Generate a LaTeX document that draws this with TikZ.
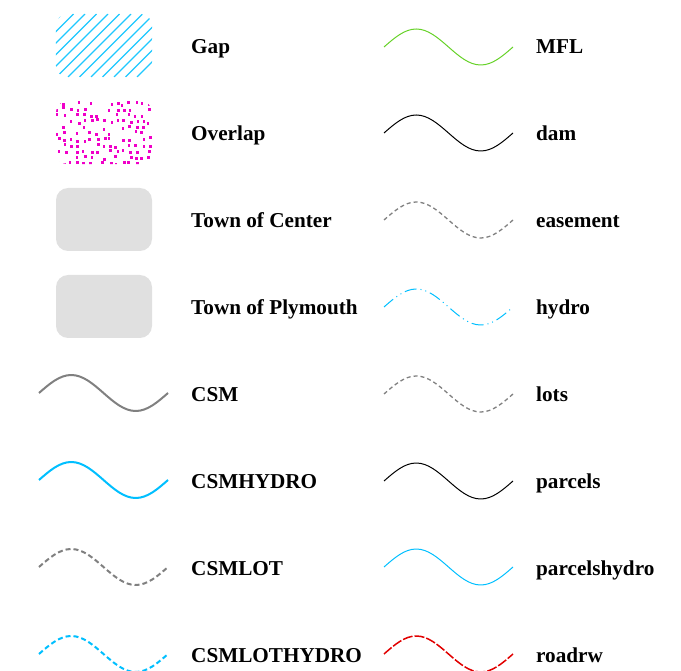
\documentclass[tikz,border=0pt]{standalone}
\usepackage{fontspec}
\setmainfont{Liberation Serif}
\usetikzlibrary{positioning}

\definecolor{hydroblue}{RGB}{0,191,255}
\definecolor{hatchblue}{RGB}{30,200,255}
\definecolor{dotpink}{RGB}{240,0,200}
\definecolor{townfill}{RGB}{224,224,224}
\definecolor{mflgreen}{RGB}{102,210,40}
\definecolor{csmgray}{RGB}{128,128,128}
\definecolor{roadred}{RGB}{225,0,0}

\tikzset{
  legtext/.style={font=\bfseries\fontsize{21.2}{23}\selectfont, anchor=base west, inner sep=0pt},
  swatch/.style={minimum width=96pt, minimum height=63pt, rounded corners=12pt, inner sep=0pt},
  wave/.pic={\draw[pic actions] (0,0) sin (32.25,-18) cos (64.5,0) sin (96.75,18) cos (129,0);}
}

\begin{document}
\begin{tikzpicture}[x=1pt, y=-1pt, line join=round]
\useasboundingbox (0,0) rectangle (681,671);

% left column swatches
\node[swatch] (gap) at (104,45.5) {};
\begin{scope}
  \clip[rounded corners=12pt] (gap.south west) rectangle (gap.north east);
  \foreach \k in {-80,-68.5,...,110}
    \draw[hatchblue, line width=1.3pt] (56+\k,77) -- (56+\k+63,14);
\end{scope}

\node[swatch] (overlap) at (104,132.5) {};
\begin{scope}
  \clip[rounded corners=12pt] (overlap.south west) rectangle (overlap.north east);
  \pgfmathsetseed{17}
  \foreach \xx in {57,63.5,...,152}
    \foreach \yy in {102,108,...,163}{
      \pgfmathsetmacro\dx{\xx+1.6*rand}
      \pgfmathsetmacro\dy{\yy+1.6*rand}
      \pgfmathsetmacro\keep{rnd}
      \ifdim\keep pt<0.75pt
        \fill[dotpink] (\dx,\dy) rectangle ++(2.6,3);
      \fi
    }
\end{scope}

\node[swatch, fill=townfill] (center) at (104,219.5) {};
\node[swatch, fill=townfill] (plymouth) at (104,306.5) {};

% left column lines
\coordinate (csm) at (39,393);
\coordinate (csmhydro) at (39,480);
\coordinate (csmlot) at (39,567);
\coordinate (csmlothydro) at (39,654);
\pic[csmgray, line width=2pt] at (csm) {wave};
\pic[hydroblue, line width=2pt] at (csmhydro) {wave};
\pic[csmgray, line width=2pt, dash pattern=on 5pt off 3pt] at (csmlot) {wave};
\pic[hydroblue, line width=2pt, dash pattern=on 5pt off 3pt] at (csmlothydro) {wave};

% left labels
\node[legtext] (tgap) at (191,54) {Gap};
\node[legtext] (toverlap) at (191,141) {Overlap};
\node[legtext] (tcenter) at (191,228) {Town of Center};
\node[legtext] (tplymouth) at (191,315) {Town of Plymouth};
\node[legtext] (tcsm) at (191,402) {CSM};
\node[legtext] (tcsmhydro) at (191,489) {CSMHYDRO};
\node[legtext] (tcsmlot) at (191,575) {CSMLOT};
\node[legtext] (tcsmlothydro) at (191,662) {CSMLOTHYDRO};

% right column lines
\coordinate (mfl) at (384,47);
\coordinate (dam) at (384,133);
\coordinate (easement) at (384,220);
\coordinate (hydro) at (384,307);
\coordinate (lots) at (384,394);
\coordinate (parcels) at (384,481);
\coordinate (parcelshydro) at (384,567);
\coordinate (roadrw) at (384,654);
\pic[mflgreen, line width=1pt] at (mfl) {wave};
\pic[black, line width=1pt] at (dam) {wave};
\pic[csmgray, line width=1.3pt, dash pattern=on 4pt off 3pt] at (easement) {wave};
\pic[hydroblue, line width=1pt, dash pattern=on 12pt off 4pt on 1pt off 4pt on 1pt off 4pt] at (hydro) {wave};
\pic[csmgray, line width=1.3pt, dash pattern=on 4pt off 3pt] at (lots) {wave};
\pic[black, line width=1pt] at (parcels) {wave};
\pic[hydroblue, line width=1pt] at (parcelshydro) {wave};
\pic[roadred, line width=1.5pt, dash pattern=on 10pt off 2pt] at (roadrw) {wave};

% right labels
\node[legtext] (tmfl) at (536,54) {MFL};
\node[legtext] (tdam) at (536,141) {dam};
\node[legtext] (teasement) at (536,228) {easement};
\node[legtext] (thydro) at (536,315) {hydro};
\node[legtext] (tlots) at (536,402) {lots};
\node[legtext] (tparcels) at (536,489) {parcels};
\node[legtext] (tparcelshydro) at (536,575) {parcelshydro};
\node[legtext] (troadrw) at (536,662) {roadrw};
\end{tikzpicture}
\end{document}
